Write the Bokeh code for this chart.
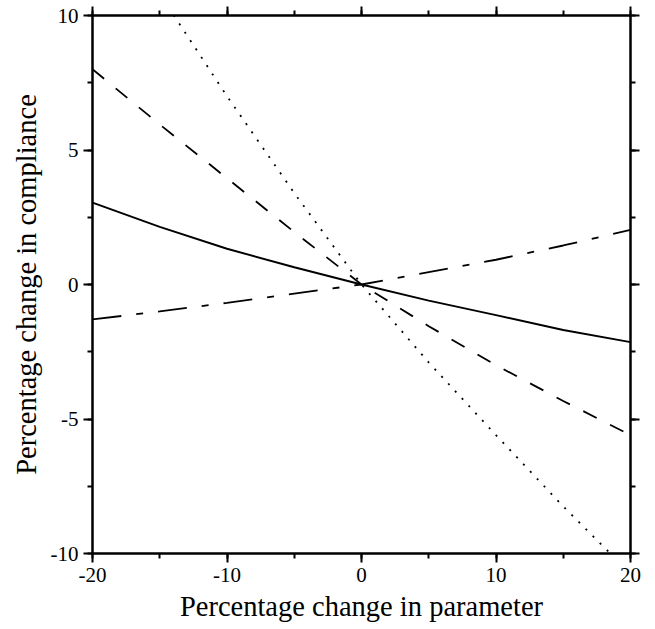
from bokeh.plotting import figure
from bokeh.models import LinearAxis, SingleIntervalTicker, Range1d, PrintfTickFormatter
from bokeh.embed import file_html
from bokeh.resources import INLINE

# Data
x_pct = [-20, -15, -10, -5, 0, 5, 10, 15, 20]
solid_vals = [3.04, 2.14, 1.33, 0.64, 0.0, -0.60, -1.14, -1.69, -2.14]
dashed_vals = [8.0, 5.95, 3.95, 1.95, 0.0, -1.55, -3.0, -4.33, -5.6]
dotted_vals = [14.7, 10.8, 7.0, 3.4, 0.0, -2.9, -5.6, -8.25, -10.75]
dashdot_vals = [-1.3, -1.0, -0.68, -0.34, 0.0, 0.46, 0.92, 1.45, 2.03]

x_label = "Percentage change in parameter"
y_label = "Percentage change in compliance"

FONT = "Liberation Serif"

p = figure(frame_width=538, frame_height=538, output_backend="svg",
           toolbar_location=None, x_range=Range1d(-20, 20), y_range=Range1d(-10, 10),
           x_axis_location="above", y_axis_location="right",
           min_border_left=92, min_border_top=15, min_border_right=14, min_border_bottom=66)
p.title.visible = False
p.grid.visible = False
p.outline_line_color = "black"
p.outline_line_width = 2
p.background_fill_color = "white"
p.border_fill_color = "white"


def style_axis(ax, interval, labels=True, title=None):
    ax.ticker = SingleIntervalTicker(interval=interval, num_minor_ticks=2)
    ax.formatter = PrintfTickFormatter(format="%d")
    ax.axis_line_width = 2
    ax.axis_line_color = "black"
    ax.major_tick_line_width = 2
    ax.minor_tick_line_width = 2
    ax.major_tick_line_color = "black"
    ax.minor_tick_line_color = "black"
    ax.major_tick_in = 0
    ax.minor_tick_in = 0
    ax.major_tick_out = 9
    ax.minor_tick_out = 5
    if labels:
        ax.major_label_text_font = FONT
        ax.major_label_text_font_size = "21px"
        ax.major_label_text_color = "black"
        ax.major_label_standoff = 5
    else:
        ax.major_label_text_font_size = "2px"
        ax.major_label_text_color = None
        ax.major_label_standoff = 0
    if title:
        ax.axis_label = title
        ax.axis_label_text_font = FONT
        ax.axis_label_text_font_size = "28.5px"
        ax.axis_label_text_font_style = "normal"
        ax.axis_label_text_color = "black"
        ax.axis_label_standoff = 6
    return ax


# frame axes on top and right (ticks only)
style_axis(p.xaxis[0], 10, False)
style_axis(p.yaxis[0], 5, False)

# labelled axes on bottom and left
p.add_layout(style_axis(LinearAxis(), 10, True, x_label), "below")
p.add_layout(style_axis(LinearAxis(), 5, True, y_label), "left")

p.line(x_pct, solid_vals, line_color="black", line_width=1.9)
p.line(x_pct, dashed_vals, line_color="black", line_width=1.8, line_dash="15 15")
p.line(x_pct, dotted_vals, line_color="black", line_width=1.8, line_dash="2 8")
p.line(x_pct, dashdot_vals, line_color="black", line_width=1.8, line_dash="29 15 7 15")

open("out.html", "w").write(file_html(p, INLINE))
